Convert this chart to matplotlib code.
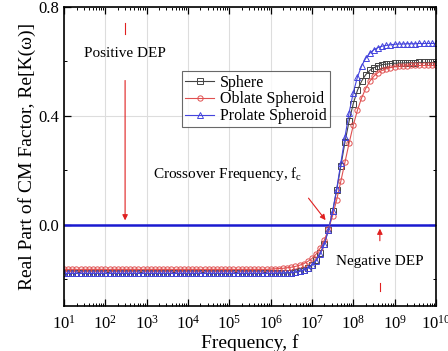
import numpy as np
import matplotlib
matplotlib.use("Agg")
import matplotlib.pyplot as plt
from matplotlib.ticker import LogLocator, MultipleLocator, NullFormatter

plt.rcParams['font.family'] = ['Liberation Serif', 'DejaVu Serif']
plt.rcParams['mathtext.fontset'] = 'stix'

# frequency grid, 10 points per decade from 10^1 to 10^10
log_f = [1.0 + 0.1 * i for i in range(91)]
freq = [10 ** v for v in log_f]

# Re[K(w)], flat part then the transition (10^6 .. 10^9.5)
sphere = [-0.180] * 50 + [
    -0.180, -0.180, -0.179, -0.179, -0.178, -0.177, -0.175, -0.172, -0.167, -0.160,
    -0.149, -0.132, -0.106, -0.070, -0.019, 0.048, 0.128, 0.216, 0.304, 0.381,
    0.445, 0.493, 0.527, 0.551, 0.567, 0.577, 0.583, 0.588, 0.590, 0.592,
    0.593, 0.594, 0.594, 0.595, 0.595, 0.595] + [0.596] * 5
oblate = [-0.165] * 50 + [
    -0.164, -0.163, -0.162, -0.161, -0.159, -0.157, -0.154, -0.150, -0.144, -0.136,
    -0.125, -0.109, -0.087, -0.057, -0.017, 0.033, 0.092, 0.160, 0.230, 0.300,
    0.365, 0.420, 0.465, 0.500, 0.527, 0.546, 0.559, 0.567, 0.573, 0.577,
    0.580, 0.582, 0.583, 0.584, 0.585, 0.585] + [0.585] * 5
prolate = [-0.180] * 50 + [
    -0.180, -0.180, -0.179, -0.179, -0.178, -0.177, -0.175, -0.172, -0.168, -0.161,
    -0.150, -0.133, -0.108, -0.072, -0.020, 0.048, 0.132, 0.227, 0.323, 0.412,
    0.485, 0.542, 0.583, 0.611, 0.630, 0.643, 0.651, 0.656, 0.659, 0.661,
    0.663, 0.664, 0.664, 0.665, 0.665, 0.665] + [0.666] * 5

fig = plt.figure(figsize=(4.48, 3.51), dpi=100)
ax = fig.add_axes([0.143, 0.128, 0.830, 0.852])

ax.grid(True, which='major', color='#dddddd', linewidth=0.8)
ax.set_axisbelow(True)

ax.axhline(0.0, color='#1a1ad0', linewidth=1.8, zorder=2)

mk = dict(markersize=3.8, markerfacecolor='none', markeredgewidth=0.7, linewidth=0.8)
ax.plot(freq, sphere, '-s', color='#444444', label='Sphere', **mk)
ax.plot(freq, oblate, '-o', color='#e05050', label='Oblate Spheroid', **mk)
ax.plot(freq, prolate, '-^', color='#4444dd', label='Prolate Spheroid', **mk)

ax.set_xscale('log')
ax.set_xlim(10, 1e10)
ax.set_ylim(-0.3, 0.8)
ax.xaxis.set_major_locator(LogLocator(base=10, numticks=20))
ax.xaxis.set_minor_locator(LogLocator(base=10, subs=np.arange(2, 10), numticks=20))
ax.xaxis.set_minor_formatter(NullFormatter())
ax.yaxis.set_major_locator(MultipleLocator(0.4))
ax.yaxis.set_minor_locator(MultipleLocator(0.2))
ax.yaxis.set_major_formatter(plt.FuncFormatter(lambda v, p: '%.1f' % v))

ax.tick_params(which='both', direction='in', top=True, right=True, labelsize=12)
ax.tick_params(which='major', length=5, width=0.9)
ax.tick_params(which='minor', length=2.5, width=0.7)
ax.tick_params(axis='x', pad=6)
for s in ax.spines.values():
    s.set_linewidth(1.2)

ax.set_xlabel('Frequency, f', fontsize=14, labelpad=1)
ax.set_ylabel('Real Part of CM Factor, Re[K(\u03c9)]', fontsize=14, labelpad=2)

leg = ax.legend(loc='upper left', bbox_to_anchor=(0.317, 0.785), borderaxespad=0,
                fontsize=11.5, frameon=True, fancybox=False, edgecolor='#444444',
                handlelength=1.8, borderpad=0.2, labelspacing=0.05, handletextpad=0.4)
leg.get_frame().set_linewidth(0.8)

red = '#e02020'
# positive DEP
ax.text(300, 0.63, 'Positive DEP', ha='center', va='center', fontsize=11)
ax.plot([300, 300], [0.74, 0.70], color=red, linewidth=0.8)
ax.annotate('', xy=(300, 0.005), xytext=(300, 0.54),
            arrowprops=dict(arrowstyle='-|>', color=red, lw=0.8, mutation_scale=8))
# negative DEP
ax.text(4.4e8, -0.135, 'Negative DEP', ha='center', va='center', fontsize=11)
ax.plot([4.4e8, 4.4e8], [-0.215, -0.245], color=red, linewidth=0.8)
ax.annotate('', xy=(4.4e8, -0.005), xytext=(4.4e8, -0.07),
            arrowprops=dict(arrowstyle='-|>', color=red, lw=0.8, mutation_scale=8))
# crossover
ax.text(1.4e3, 0.185, 'Crossover Frequency, f$_\\mathregular{c}$', ha='left', va='center', fontsize=11)
ax.annotate('', xy=(2.35e7, 0.008), xytext=(7.5e6, 0.105),
            arrowprops=dict(arrowstyle='-|>', color=red, lw=0.8, mutation_scale=8))

fig.savefig('out.png', dpi=100)
